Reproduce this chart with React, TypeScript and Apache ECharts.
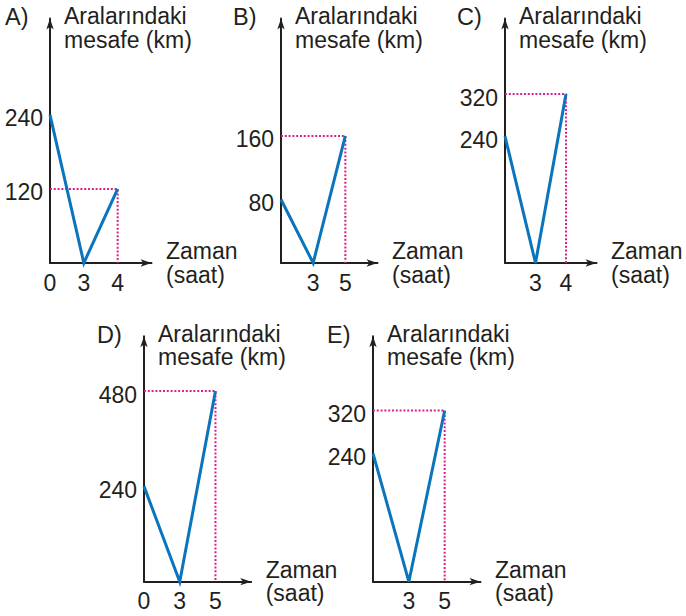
import React, { useEffect, useRef } from "react";
import * as echarts from "echarts";

// ---- Data ----
const panelLetters = ["A)", "B)", "C)", "D)", "E)"];

const timesA = ["0", "3", "4"];
const distA = [240, 0, 120];
const timesB = ["0", "3", "5"];
const distB = [80, 0, 160];
const timesC = ["0", "3", "4"];
const distC = [240, 0, 320];
const timesD = ["0", "3", "5"];
const distD = [240, 0, 480];
const timesE = ["0", "3", "5"];
const distE = [240, 0, 320];

const xTicksA = ["0", "3", "4"];
const xTicksB = ["3", "5"];
const xTicksC = ["3", "4"];
const xTicksD = ["0", "3", "5"];
const xTicksE = ["3", "5"];

const yTicksA = [120, 240];
const yTicksB = [80, 160];
const yTicksC = [240, 320];
const yTicksD = [240, 480];
const yTicksE = [240, 320];

const yAxisTitle = "Aralarındaki\nmesafe (km)";
const xAxisTitle = "Zaman\n(saat)";

// ---- Styling / layout ----
const FONT = '"Liberation Sans", Arial, Helvetica, sans-serif';
const INK = "#231f20";
const BLUE = "#0a74bd";
const PINK = "#d9218b";

// xMax: category-index extent of the axis arrow; yMax: value extent of the axis arrow
const layouts = [
  { left: 50, top: 18.5, width: 101.5, height: 244.5, xMax: 2.97, yMax: 396 },
  { left: 281, top: 18.5, width: 96.5, height: 244.5, xMax: 2.55, yMax: 308 },
  { left: 505, top: 18.5, width: 91.5, height: 244.5, xMax: 2.85, yMax: 463 },
  { left: 144, top: 336.2, width: 107.2, height: 245.5, xMax: 2.63, yMax: 618 },
  { left: 373, top: 336.2, width: 107.5, height: 245.5, xMax: 2.7, yMax: 459 },
];
const letterPos = [
  { x: 5, y: 17 },
  { x: 233, y: 17 },
  { x: 457, y: 17 },
  { x: 97, y: 335 },
  { x: 327, y: 335 },
];

const panels = [
  { t: timesA, d: distA, xt: xTicksA, yt: yTicksA },
  { t: timesB, d: distB, xt: xTicksB, yt: yTicksB },
  { t: timesC, d: distC, xt: xTicksC, yt: yTicksC },
  { t: timesD, d: distD, xt: xTicksD, yt: yTicksD },
  { t: timesE, d: distE, xt: xTicksE, yt: yTicksE },
];

function buildOption() {
  const grid: any[] = [];
  const xAxis: any[] = [];
  const yAxis: any[] = [];
  const series: any[] = [];
  const graphic: any[] = [];

  panels.forEach((p, i) => {
    const L = layouts[i];
    grid.push({
      left: L.left,
      top: L.top,
      width: L.width,
      height: L.height,
      containLabel: false,
      outerBoundsMode: "none",
    });
    const axisLine = {
      show: true,
      onZero: false,
      symbol: ["none", "arrow"],
      symbolSize: [5.5, 11],
      lineStyle: { color: INK, width: 2 },
    };
    xAxis.push({
      type: "category",
      gridIndex: i,
      data: p.t,
      boundaryGap: false,
      min: 0,
      max: L.xMax,
      axisLine,
      axisTick: { show: false },
      splitLine: { show: false },
      axisLabel: {
        show: true,
        interval: 0,
        formatter: (v: string) => (p.xt.includes(v) ? v : ""),
        color: INK,
        fontSize: 23,
        fontFamily: FONT,
        margin: 8,
      },
      name: xAxisTitle,
      nameLocation: "end",
      nameGap: 14.5,
      nameTextStyle: {
        color: INK,
        fontSize: 23,
        fontFamily: FONT,
        lineHeight: 23.5,
        align: "left",
        verticalAlign: "middle",
      },
    });
    yAxis.push({
      type: "value",
      gridIndex: i,
      min: 0,
      max: L.yMax,
      axisLine,
      axisTick: { show: false },
      splitLine: { show: false },
      axisLabel: {
        show: true,
        customValues: p.yt,
        formatter: (v: number) => String(v),
        color: INK,
        fontSize: 23,
        fontFamily: FONT,
        margin: 7,
        verticalAlign: "top",
        lineHeight: 7,
      },
      name: yAxisTitle,
      nameLocation: "end",
      nameGap: 14,
      nameTextStyle: {
        color: INK,
        fontSize: 23,
        fontFamily: FONT,
        lineHeight: 23.5,
        align: "left",
        verticalAlign: "top",
        padding: [0, 0, 0, 14],
      },
    });

    const last = p.t.length - 1;
    const dEnd = p.d[last];
    series.push({
      type: "line",
      xAxisIndex: i,
      yAxisIndex: i,
      data: [
        [0, dEnd],
        [last, dEnd],
        [last, 0],
      ],
      symbol: "none",
      clip: false,
      silent: true,
      z: 1,
      lineStyle: { color: PINK, width: 2, type: [2, 1.8] },
    });
    series.push({
      type: "line",
      xAxisIndex: i,
      yAxisIndex: i,
      data: p.t.map((t, k) => [k, p.d[k]]),
      symbol: "none",
      clip: false,
      silent: true,
      z: 3,
      lineStyle: { color: BLUE, width: 3, join: "miter" },
    });

    graphic.push({
      type: "text",
      x: letterPos[i].x,
      y: letterPos[i].y,
      style: {
        text: panelLetters[i],
        fill: INK,
        fontSize: 23.5,
        fontFamily: FONT,
        align: "left",
        verticalAlign: "middle",
      },
    });
  });

  return {
    animation: false,
    backgroundColor: "#ffffff",
    textStyle: { fontFamily: FONT },
    grid,
    xAxis,
    yAxis,
    series,
    graphic,
  };
}

export default function App() {
  const ref = useRef<HTMLDivElement>(null);
  useEffect(() => {
    if (!ref.current) return;
    const chart = echarts.init(ref.current, undefined, { renderer: "svg" });
    chart.setOption(buildOption() as any);
    return () => chart.dispose();
  }, []);
  return (
    <div
      ref={ref}
      style={{ position: "absolute", left: 0, top: 0, width: 686, height: 616, background: "#fff" }}
    />
  );
}
